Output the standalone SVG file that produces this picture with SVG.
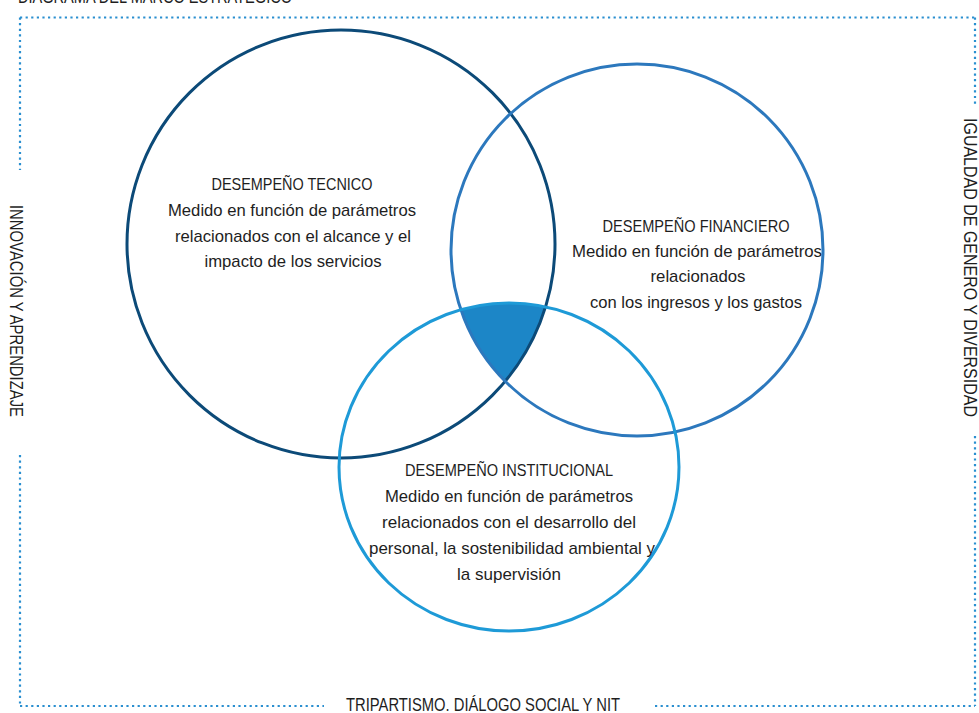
<svg xmlns="http://www.w3.org/2000/svg" width="979" height="713" viewBox="0 0 979 713">
<style>
.bd{fill:none;stroke:#2a8fd0;stroke-width:2.2;stroke-dasharray:2.2 3.4}
.t{font-family:"Liberation Sans",Arial,sans-serif;font-size:17px;fill:#1e1e1e;text-anchor:middle}
.s{font-family:"Liberation Sans",Arial,sans-serif;font-size:18px;fill:#1e1e1e}
</style>
<defs>
<clipPath id="c1"><circle cx="341" cy="244" r="214"/></clipPath>
<clipPath id="c2"><circle cx="637" cy="250" r="186"/></clipPath>
</defs>
<rect width="979" height="713" fill="#fff"/>
<g id="frame">
<path class="bd" d="M20 17.5H975M20 17.5V170M20 455V706M975 17.5V107M975 436V706M20 706H324M655 706H975"/>
<text class="s" x="18" y="3" textLength="274" lengthAdjust="spacingAndGlyphs">DIAGRAMA DEL MARCO ESTRATEGICO</text>
<text class="s" transform="translate(10,205) rotate(90)" textLength="212" lengthAdjust="spacingAndGlyphs">INNOVACIÓN Y APRENDIZAJE</text>
<text class="s" transform="translate(964,118) rotate(90)" textLength="299" lengthAdjust="spacingAndGlyphs">IGUALDAD DE GENERO Y DIVERSIDAD</text>
<text class="s" x="346" y="711" font-size="19" textLength="274" lengthAdjust="spacingAndGlyphs">TRIPARTISMO. DIÁLOGO SOCIAL Y NIT</text>
</g>
<g id="overlap">
<g clip-path="url(#c1)"><g clip-path="url(#c2)"><ellipse cx="509" cy="467" rx="170" ry="164" fill="#1c86c7"/></g></g>
</g>
<g id="tecnico">
<circle cx="341" cy="244" r="214" fill="none" stroke="#0c4a78" stroke-width="3"/>
<text class="t" x="292" y="190" textLength="161" lengthAdjust="spacingAndGlyphs">DESEMPEÑO TECNICO</text>
<text class="t" x="292" y="216" textLength="248" lengthAdjust="spacingAndGlyphs">Medido en función de parámetros</text>
<text class="t" x="293" y="242" textLength="236" lengthAdjust="spacingAndGlyphs">relacionados con el alcance y el</text>
<text class="t" x="293" y="267" textLength="177" lengthAdjust="spacingAndGlyphs">impacto de los servicios</text>
</g>
<g id="financiero">
<circle cx="637" cy="250" r="186" fill="none" stroke="#2c78bd" stroke-width="3"/>
<text class="t" x="696" y="232" textLength="187" lengthAdjust="spacingAndGlyphs">DESEMPEÑO FINANCIERO</text>
<text class="t" x="697" y="257" textLength="250" lengthAdjust="spacingAndGlyphs">Medido en función de parámetros</text>
<text class="t" x="698" y="282" textLength="95" lengthAdjust="spacingAndGlyphs">relacionados</text>
<text class="t" x="696" y="308" textLength="212" lengthAdjust="spacingAndGlyphs">con los ingresos y los gastos</text>
</g>
<g id="institucional">
<ellipse cx="509" cy="467" rx="170" ry="164" fill="none" stroke="#1e9ad7" stroke-width="3"/>
<text class="t" x="509" y="476" textLength="208" lengthAdjust="spacingAndGlyphs">DESEMPEÑO INSTITUCIONAL</text>
<text class="t" x="509" y="502" textLength="248" lengthAdjust="spacingAndGlyphs">Medido en función de parámetros</text>
<text class="t" x="509" y="528" textLength="254" lengthAdjust="spacingAndGlyphs">relacionados con el desarrollo del</text>
<text class="t" x="512" y="554" textLength="286" lengthAdjust="spacingAndGlyphs">personal, la sostenibilidad ambiental y</text>
<text class="t" x="509" y="580" textLength="104" lengthAdjust="spacingAndGlyphs">la supervisión</text>
</g>
<g id="connectors"/>
</svg>
